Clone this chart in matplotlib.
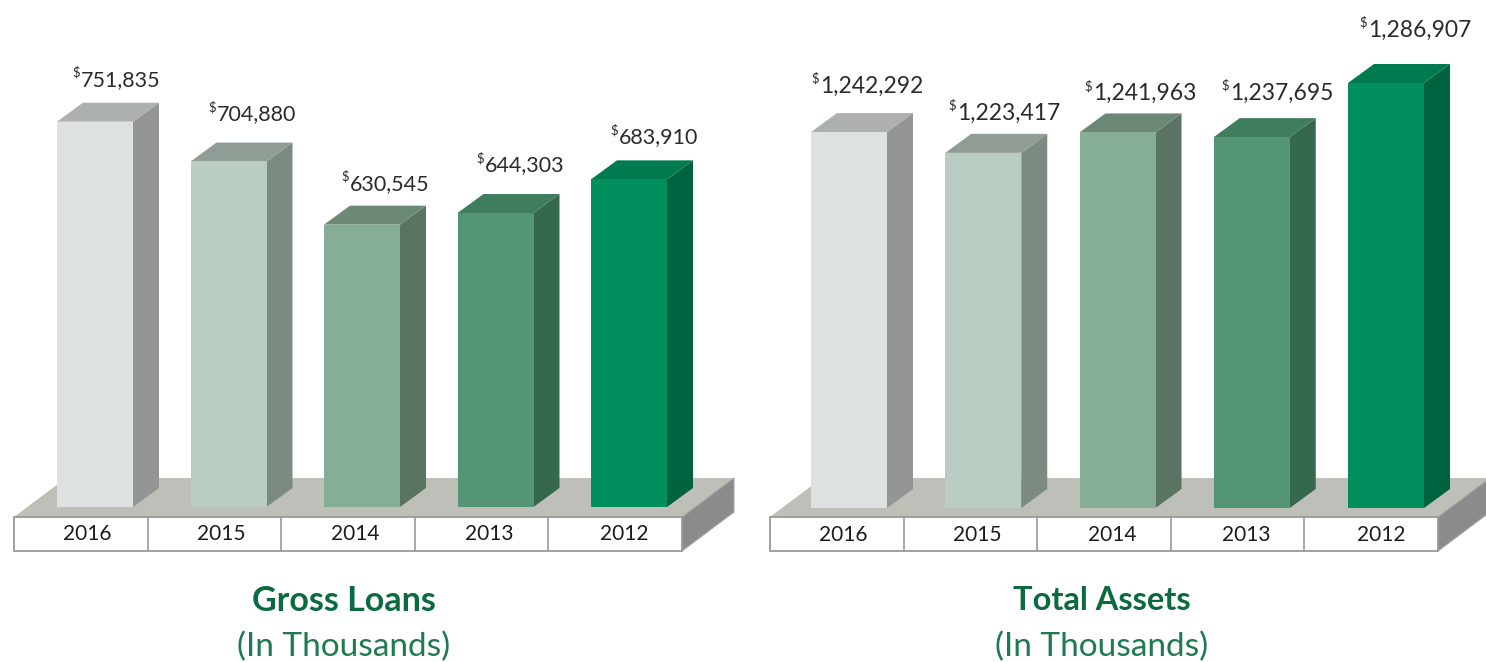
import matplotlib
matplotlib.use('Agg')
import matplotlib.pyplot as plt
from matplotlib.patches import Polygon, Rectangle

# =============================================================================
# Values
# =============================================================================
years = ['2016', '2015', '2014', '2013', '2012']
gross_loans = [751835, 704880, 630545, 644303, 683910]
total_assets = [1242292, 1223417, 1241963, 1237695, 1286907]
gross_labels = ['751,835', '704,880', '630,545', '644,303', '683,910']
assets_labels = ['1,242,292', '1,223,417', '1,241,963', '1,237,695', '1,286,907']

front_colors = ['#dde2e0', '#bacdc3', '#85ad97', '#559577', '#008f5d']
side_colors = ['#939695', '#7d8a82', '#5a7464', '#36684f', '#006340']
top_colors = ['#acb0ae', '#8f9d94', '#6c8877', '#3f7d5f', '#007a4f']

W, H = 1486, 662
DPI = 100
FONT = 'Lato'
BAR_W = 76         # px
DEPTH_X = 26
DEPTH_Y = 19
TEXT_COLOR = '#2b2b2b'
GREEN = '#0b6b3f'


def px(n):
    return n * 72 / DPI


def draw_platform(bg, left):
    """Floor, side and year table of one panel, in figure pixels."""
    right = left + 668
    bg.add_patch(Polygon([(left, 517), (left + 52, 478), (right + 52, 478), (right, 517)],
                         fc='#bdbfb8', ec='none', zorder=1))
    bg.add_patch(Polygon([(right, 517), (right + 52, 478), (right + 52, 512), (right, 551)],
                         fc='#8b8b8b', ec='#a5a5a5', lw=0.8, zorder=1))
    bg.add_patch(Rectangle((left, 517), 668, 33.5, fc='white', ec='#9a9a9a', lw=1.3, zorder=2))
    for i in range(1, 5):
        x = left + i * 668 / 5
        bg.plot([x, x], [517, 550.5], color='#9a9a9a', lw=1.2, zorder=3)


def draw_panel(fig, bg, values, labels, first_center, spacing, baseline, px_per_unit, base_value,
               table_left, year_dx, year_step, label_dx, label_dy, label_size,
               title, title_x, title_size):
    draw_platform(bg, table_left)

    # axes spans from the figure top to the bars' foot, so value -> pixel is linear
    x0 = first_center - spacing / 2
    ax = fig.add_axes([x0 / W, 1 - baseline / H, 5 * spacing / W, baseline / H])
    ax.set_xlim(-0.5, 4.5)
    ax.set_ylim(base_value, base_value + baseline / px_per_unit)
    ax.axis('off')

    dx = DEPTH_X / spacing
    dy = DEPTH_Y / px_per_unit
    half = BAR_W / spacing / 2
    xs = range(len(values))
    ax.bar(xs, [v - base_value for v in values], bottom=base_value, width=2 * half,
           color=front_colors, zorder=3, clip_on=False)
    renderer = fig.canvas.get_renderer()
    for i, v in enumerate(values):
        ax.add_patch(Polygon([(i + half, base_value), (i + half + dx, base_value + dy),
                              (i + half + dx, v + dy), (i + half, v)],
                             fc=side_colors[i], ec='none', zorder=2, clip_on=False))
        ax.add_patch(Polygon([(i - half, v), (i - half + dx, v + dy),
                              (i + half + dx, v + dy), (i + half, v)],
                             fc=top_colors[i], ec='none', zorder=2, clip_on=False))
        # value label, with the small raised dollar sign in front of it
        ann = ax.annotate(labels[i], (i, v), xytext=(px(label_dx[i]), px(label_dy[i])),
                          textcoords='offset points', ha='center', va='center',
                          fontsize=label_size, family=FONT, color=TEXT_COLOR,
                          annotation_clip=False, zorder=5)
        box = ann.get_window_extent(renderer)
        bg.text(box.x0 - 1, H - box.y1 + 3, '$', fontsize=9.5, family=FONT, color=TEXT_COLOR,
                ha='right', va='center', zorder=5)
        ax.annotate(years[i], (i, base_value), xytext=(px(year_dx + i * year_step), px(-27)),
                    textcoords='offset points', ha='center', va='center',
                    fontsize=15, family=FONT, color='#1c1c1c', annotation_clip=False, zorder=5)

    bg.text(title_x, 601, title, fontsize=title_size, family=FONT, weight='bold', color=GREEN,
            ha='center', va='center')
    bg.text(title_x, 647, '(In Thousands)', fontsize=24, family=FONT,
            color='#1f7a50', ha='center', va='center')


def main():
    fig = plt.figure(figsize=(W / DPI, H / DPI), dpi=DPI, facecolor='white')
    bg = fig.add_axes([0, 0, 1, 1])
    bg.set_xlim(0, W)
    bg.set_ylim(H, 0)
    bg.axis('off')

    draw_panel(fig, bg, gross_loans, gross_labels, 95, 133.5, 507, 0.000849, 298000, 14,
               year_dx=-8, year_step=0.7,
               label_dx=[26, 28, 28, 29, 30], label_dy=[42, 47, 41, 48, 42], label_size=15.5,
               title='Gross Loans', title_x=344, title_size=24.5)
    draw_panel(fig, bg, total_assets, assets_labels, 849, 134.25, 508, 0.0011, 900550, 770,
               year_dx=-6, year_step=0.3,
               label_dx=[23, 25, 27, 30, 34], label_dy=[46, 40, 39, 44, 53], label_size=16.5,
               title='Total Assets', title_x=1102, title_size=23.5)

    fig.savefig('out.png', dpi=DPI)


if __name__ == "__main__":
    main()
